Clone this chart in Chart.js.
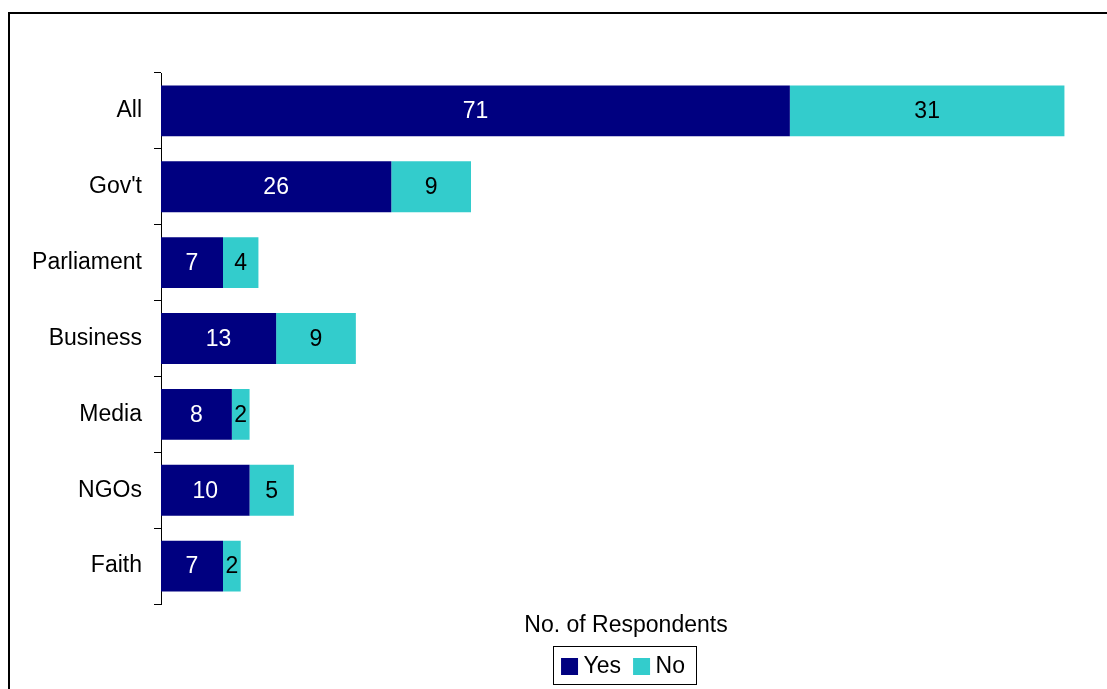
<!DOCTYPE html>
<html>
<head>
<meta charset="utf-8">
<title>No. of Respondents</title>
<script src="https://cdn.jsdelivr.net/npm/chart.js@4/dist/chart.umd.min.js"></script>
<style>
    html, body { margin: 0; padding: 0; background: #fff; width: 1107px; height: 689px; overflow: hidden; }
    #frame { position: absolute; left: 8px; top: 12px; width: 1240px; height: 700px; border: 2px solid #000; background: #fff; }
    #frame canvas { display: block; }
</style>
</head>
<body>
<div id="frame"><canvas id="respondentsChart" width="1097" height="680"></canvas></div>
<script>
// respondent groups, top to bottom
const groups = ["All", "Gov't", "Parliament", "Business", "Media", "NGOs", "Faith"];
const yesCounts = [71, 26, 7, 13, 8, 10, 7];
const noCounts = [31, 9, 4, 9, 2, 5, 2];
const seriesNames = ["Yes", "No"];
const axisTitle = "No. of Respondents";

Chart.defaults.font.family = '"Liberation Sans", Arial, sans-serif';
Chart.defaults.font.size = 23;
Chart.defaults.color = "#000";

// writes each segment's count in the middle of the bar
let barValues = {
    id: "barValues",
    afterDatasetsDraw: function (chart) {
        let ctx = chart.ctx;
        ctx.save();
        ctx.font = '23px "Liberation Sans", Arial, sans-serif';
        ctx.textAlign = "center";
        ctx.textBaseline = "middle";
        chart.data.datasets.forEach(function (ds, i) {
            let meta = chart.getDatasetMeta(i);
            ctx.fillStyle = i === 0 ? "#fff" : "#000";
            meta.data.forEach(function (bar, j) {
                let p = bar.getProps(["x", "y", "base"], true);
                ctx.fillText(String(ds.data[j]), (p.x + p.base) / 2, p.y + 1);
            });
        });
        ctx.restore();
    }
};

// thin box round the legend entries
// (the squares are point-style rects that hang 6px left of each hit box)
let legendFrame = {
    id: "legendFrame",
    afterDraw: function (chart) {
        let boxes = chart.legend.legendHitBoxes;
        if (!boxes || !boxes.length) return;
        let left = Math.min.apply(null, boxes.map(b => b.left));
        let right = Math.max.apply(null, boxes.map(b => b.left + b.width));
        let top = Math.min.apply(null, boxes.map(b => b.top));
        let bottom = Math.max.apply(null, boxes.map(b => b.top + b.height));
        let ctx = chart.ctx;
        ctx.save();
        ctx.strokeStyle = "#000";
        ctx.lineWidth = 1;
        ctx.strokeRect(Math.round(left - 14) + 0.5, Math.round(top - 9) + 0.5,
            Math.round(right - left + 25), Math.round(bottom - top + 15));
        ctx.restore();
    }
};

let ctxB = document.getElementById("respondentsChart").getContext("2d");
let respondentsChart = new Chart(ctxB, {
    type: "bar",
    data: {
        labels: groups,
        datasets: [{
            label: seriesNames[0],
            data: yesCounts,
            backgroundColor: "#000080",
            borderWidth: 0,
            barPercentage: 0.67,
            categoryPercentage: 1
        }, {
            label: seriesNames[1],
            data: noCounts,
            backgroundColor: "#33CCCC",
            borderWidth: 0,
            barPercentage: 0.67,
            categoryPercentage: 1
        }]
    },
    options: {
        indexAxis: "y",
        responsive: false,
        animation: false,
        devicePixelRatio: 1,
        layout: {
            padding: { top: 59, left: 0, right: 16, bottom: 6 }
        },
        scales: {
            x: {
                stacked: true,
                min: 0,
                max: 105,
                ticks: { display: false },
                grid: { display: false, drawTicks: false },
                border: { display: false },
                title: {
                    display: true,
                    text: axisTitle,
                    font: { size: 23, lineHeight: 1 },
                    padding: { top: 10, bottom: 0 }
                }
            },
            y: {
                stacked: true,
                afterFit: function (scale) {
                    scale.width = 151;
                },
                ticks: { padding: 12, font: { size: 23 } },
                grid: {
                    drawOnChartArea: false,
                    drawTicks: true,
                    tickLength: 7,
                    color: "#000",
                    offset: true
                },
                border: { display: true, color: "#000", width: 1 }
            }
        },
        plugins: {
            legend: {
                position: "bottom",
                fullSize: false,
                labels: {
                    usePointStyle: true,
                    pointStyle: "rect",
                    boxWidth: 5,
                    boxHeight: 17,
                    padding: 18,
                    font: { size: 23 }
                }
            },
            tooltip: { enabled: false }
        }
    },
    plugins: [barValues, legendFrame]
});
</script>
</body>
</html>
